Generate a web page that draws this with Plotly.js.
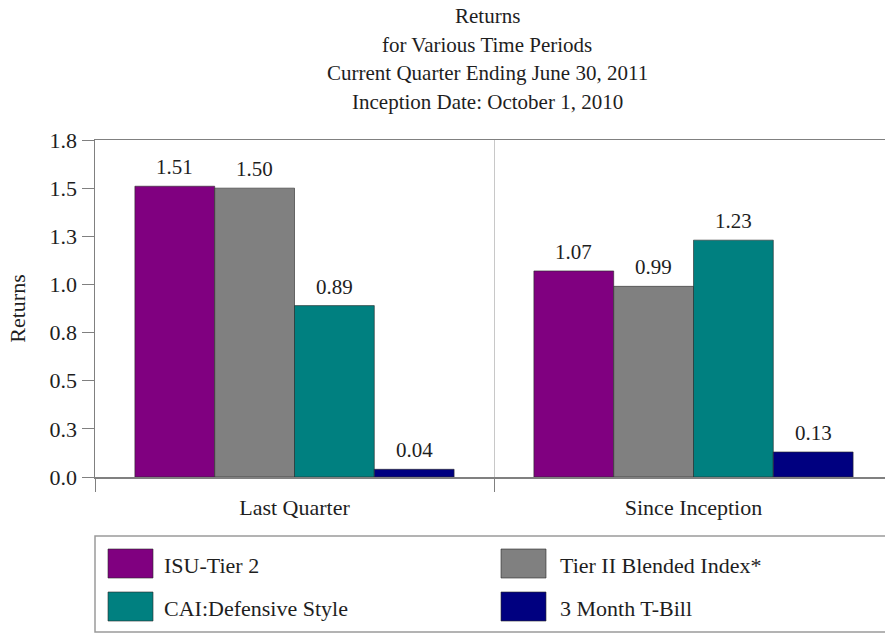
<!DOCTYPE html>
<html>
<head>
<meta charset="utf-8">
<script src="https://cdn.plot.ly/plotly-3.0.1.min.js"></script>
<style>
  html, body { margin: 0; padding: 0; background: #fff; overflow: hidden; }
  #chart { width: 900px; height: 633px; }
</style>
</head>
<body>
<div id="chart"></div>
<script>
// ---- data ----
const categories = ["Last Quarter", "Since Inception"];
const seriesNames = ["ISU-Tier 2", "Tier II Blended Index*", "CAI:Defensive Style", "3 Month T-Bill"];
const seriesColors = ["#800080", "#808080", "#008080", "#000080"];
const isuTier2 = [1.51, 1.07];
const blendedIndex = [1.50, 0.99];
const caiDefensive = [0.89, 1.23];
const tBill = [0.04, 0.13];
const seriesValues = [isuTier2, blendedIndex, caiDefensive, tBill];
const yTickVals = [0, 0.25, 0.5, 0.75, 1.0, 1.25, 1.5, 1.75];
const yTickText = ["0.0", "0.3", "0.5", "0.8", "1.0", "1.3", "1.5", "1.8"];
const titleLines = ["Returns", "for Various Time Periods", "Current Quarter Ending June 30, 2011", "Inception Date: October 1, 2010"];

// ---- layout helpers ----
const W = 900, H = 633;
const M = { l: 95, r: 7, t: 140, b: 156 };
const plotW = W - M.l - M.r, plotH = H - M.t - M.b;
const px = x => (x - M.l) / plotW;
const py = y => (H - M.b - y) / plotH;
const FONT = "Liberation Serif, Times New Roman, serif";
const TXT = "#1e1e1e";
const BARGAP = 0.2;
const barW = (1 - BARGAP) / seriesNames.length;

const traces = seriesNames.map((name, i) => ({
  type: "bar",
  name: name,
  x: categories,
  y: seriesValues[i],
  marker: { color: seriesColors[i], line: { color: "rgba(40,40,40,0.6)", width: 1 } },
  hoverinfo: "skip",
  showlegend: false
}));

const annotations = [];
// title lines
titleLines.forEach((t, k) => {
  annotations.push({
    xref: "paper", yref: "paper", x: px(487), y: py(16 + 28.5 * k),
    xanchor: "center", yanchor: "middle", showarrow: false,
    text: t, font: { family: FONT, size: 21, color: TXT }
  });
});
// value labels
seriesValues.forEach((vals, i) => {
  vals.forEach((v, j) => {
    annotations.push({
      x: j + (i - (seriesNames.length - 1) / 2) * barW, y: v,
      xref: "x", yref: "y", yanchor: "bottom", yshift: 5, showarrow: false,
      text: v.toFixed(2), font: { family: FONT, size: 21, color: TXT }
    });
  });
});

const shapes = [];
// legend box
shapes.push({
  type: "rect", xref: "paper", yref: "paper",
  x0: px(95), x1: px(905), y0: py(632), y1: py(536),
  line: { color: "#9a9a9a", width: 1.5 }, fillcolor: "rgba(0,0,0,0)"
});
const legSwatchX = [108, 501], legTextX = [162, 558], legRows = [549, 592];
seriesNames.forEach((name, i) => {
  const c = i % 2, r = Math.floor(i / 2);
  shapes.push({
    type: "rect", xref: "paper", yref: "paper",
    x0: px(legSwatchX[c]), x1: px(legSwatchX[c] + 45),
    y0: py(legRows[r] + 29), y1: py(legRows[r]),
    fillcolor: seriesColors[i], line: { color: "rgba(40,40,40,0.6)", width: 1 }
  });
  annotations.push({
    xref: "paper", yref: "paper", x: px(legTextX[c]), y: py(legRows[r] + 16),
    xanchor: "left", yanchor: "middle", showarrow: false,
    text: name, font: { family: FONT, size: 22, color: TXT }
  });
});

const layout = {
  width: W, height: H,
  margin: M,
  paper_bgcolor: "#fff", plot_bgcolor: "#fff",
  font: { family: FONT, size: 22, color: TXT },
  bargap: BARGAP, bargroupgap: 0, barmode: "group",
  showlegend: false,
  xaxis: {
    type: "category", range: [-0.5, 1.5],
    tickson: "boundaries", ticks: "outside", ticklen: 13, tickcolor: "#808080", tickwidth: 1,
    ticklabelstandoff: 10,
    showgrid: true, gridcolor: "#c8c8c8", gridwidth: 1,
    showline: true, linecolor: "#808080", linewidth: 1.5, mirror: true,
    tickfont: { family: FONT, size: 22, color: TXT },
    fixedrange: true
  },
  yaxis: {
    range: [0, 1.75], tickvals: yTickVals, ticktext: yTickText,
    ticks: "outside", ticklen: 12, tickcolor: "#808080", tickwidth: 1,
    showgrid: false, zeroline: false,
    showline: true, linecolor: "#808080", linewidth: 1.5,
    tickfont: { family: FONT, size: 22, color: TXT },
    title: { text: "Returns", font: { family: FONT, size: 22, color: TXT }, standoff: 18 },
    fixedrange: true
  },
  annotations: annotations,
  shapes: shapes
};

Plotly.newPlot("chart", traces, layout, { displayModeBar: false, staticPlot: true });
</script>
</body>
</html>
